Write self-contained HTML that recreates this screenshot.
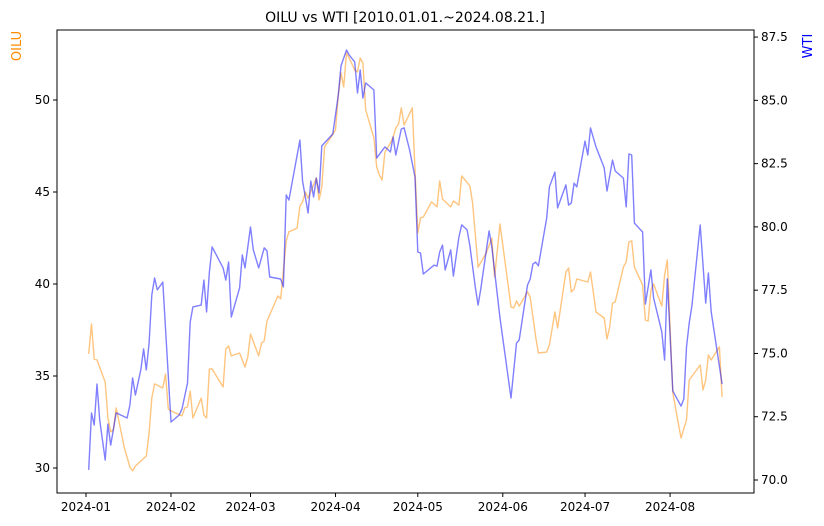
<!DOCTYPE html>
<html><head><meta charset="utf-8">
<style>
html,body{margin:0;padding:0;background:#fff;}
svg{display:block;font-family:"DejaVu Sans","Liberation Sans",sans-serif;}
</style></head>
<body>
<svg id="chart" width="824" height="526" viewBox="0 0 824 526" xmlns="http://www.w3.org/2000/svg">
<rect x="0" y="0" width="824" height="526" fill="#fff"/>
<text x="405" y="22" text-anchor="middle" font-size="14" fill="#000">OILU vs WTI [2010.01.01.~2024.08.21.]</text>
<text transform="translate(21,46) rotate(-90)" text-anchor="middle" font-size="13" fill="#ff8c00">OILU</text>
<text transform="translate(812,46) rotate(-90)" text-anchor="middle" font-size="13" fill="#0000ff">WTI</text>
<g id="plot"></g>
</svg>
<script>
// days since 2024-01-01
const wtiDays=[1,2,3,4,5,7,8,9,11,15,16,17,18,20,21,22,23,24,25,26,28,31,34,35,37,38,39,42,43,44,45,46,50,51,52,53,56,57,58,60,61,63,65,66,67,71,72,73,74,78,79,81,82,83,84,85,86,90,92,93,95,96,98,99,100,101,102,105,106,109,111,112,113,115,116,118,120,121,122,123,127,128,129,130,131,133,134,136,137,139,140,142,143,144,147,148,151,155,157,158,161,162,163,164,165,168,169,171,172,175,176,177,178,179,182,183,184,186,189,190,192,193,196,197,198,199,200,203,204,206,207,210,211,212,214,217,218,219,220,221,224,226,227,228,232];
const wtiValues=[70.40,72.65,72.17,73.79,72.37,70.79,72.21,71.38,72.65,72.45,72.96,74.03,73.36,74.35,75.18,74.35,75.41,77.31,77.98,77.51,77.82,72.29,72.57,72.81,73.83,76.24,76.84,76.91,77.90,76.64,78.22,79.21,78.38,77.90,78.61,76.44,77.59,78.89,78.38,80.00,79.09,78.38,79.17,79.05,78.02,77.94,77.63,81.26,81.06,83.43,81.80,80.55,81.81,81.18,81.93,81.34,83.20,83.67,85.21,86.36,86.99,86.79,86.52,85.29,86.20,85.09,85.69,85.41,82.72,83.16,82.96,83.55,82.84,83.87,83.91,83.04,81.97,79.01,78.97,78.14,78.49,78.45,79.01,79.28,78.30,79.09,78.06,79.60,80.08,79.88,79.25,77.59,76.91,77.55,79.84,79.21,76.40,73.24,75.41,75.53,77.70,77.94,78.53,78.61,78.46,80.35,81.58,82.17,80.75,81.66,80.86,80.94,81.73,81.58,83.39,82.84,83.91,83.16,82.33,81.42,82.64,82.21,81.93,80.79,82.88,82.84,80.15,79.80,76.95,78.30,77.19,75.85,74.74,77.94,73.52,72.92,73.20,75.25,76.20,76.91,80.08,76.99,78.18,76.64,73.79];
const oiluDays=[1,2,3,4,7,8,9,10,11,14,16,17,18,22,23,24,25,28,29,30,31,35,36,37,38,39,42,43,44,45,46,50,51,52,53,56,58,59,60,63,64,65,66,70,71,73,74,77,78,79,80,81,84,85,86,87,91,92,93,94,95,96,98,99,100,101,102,105,106,107,108,109,111,112,113,114,115,116,119,120,121,122,123,126,128,129,130,133,134,135,136,137,140,141,143,146,148,149,151,155,156,157,158,161,162,164,165,168,169,171,172,175,176,177,178,179,183,184,186,189,190,191,192,193,196,197,198,199,200,203,204,205,206,207,210,211,212,214,217,219,220,224,225,226,227,228,231,232];
const oiluValues=[36.20,37.83,35.92,35.87,34.67,32.72,31.96,32.07,33.26,31.09,30.05,29.84,30.11,30.65,31.90,33.80,34.57,34.35,35.11,33.21,33.10,32.83,33.26,33.32,34.18,32.72,33.80,32.88,32.72,35.38,35.38,34.40,36.47,36.63,36.09,36.25,35.49,36.03,37.28,36.09,36.79,36.90,37.99,39.35,39.19,42.34,42.83,43.04,44.24,44.46,45.00,44.67,45.76,44.57,45.27,47.45,48.37,50.27,51.47,50.71,52.56,52.28,51.63,51.52,52.28,52.01,49.46,47.94,46.36,45.92,45.65,47.17,47.66,47.99,48.48,48.70,49.57,48.64,49.57,46.20,42.77,43.59,43.64,44.46,44.19,45.60,44.62,44.19,44.51,44.40,44.29,45.87,45.33,44.40,40.92,41.69,42.50,40.38,43.26,38.75,38.70,39.08,38.80,39.57,39.29,37.12,36.25,36.30,36.69,38.48,37.61,40.65,40.87,39.57,39.73,40.27,40.11,40.65,38.48,38.15,37.01,37.66,38.97,39.02,40.92,41.20,42.28,42.34,40.92,39.95,38.04,37.99,39.67,40.00,38.80,40.49,41.30,34.08,31.63,32.61,34.78,35.60,34.24,34.78,36.14,35.87,36.58,33.86];
const xTickDays=[0,31,60,91,121,152,182,213];
const xTickLabels=["2024-01","2024-02","2024-03","2024-04","2024-05","2024-06","2024-07","2024-08"];
const leftTicks=[30,35,40,45,50];
const rightTicks=[70.0,72.5,75.0,77.5,80.0,82.5,85.0,87.5];

const NS="http://www.w3.org/2000/svg";
const L=57,R=754,T=30,B=493;
const xS=d=>86+d*2.742;
const yL=v=>468-(v-30)*18.4;
const yR=v=>480-(v-70)*25.31;
const g=document.getElementById('plot');
function mk(tag,attrs,parent){const e=document.createElementNS(NS,tag);for(const k in attrs)e.setAttribute(k,attrs[k]);(parent||g).appendChild(e);return e;}

function series(days,vals,ys,color,name){
  const p=days.map((d,i)=>xS(d).toFixed(1)+","+ys(vals[i]).toFixed(1)).join(" ");
  const el=mk('polyline',{points:p,fill:'none',stroke:color,'stroke-opacity':'0.5','stroke-width':'1.4','stroke-linejoin':'round'});
  
  
}
series(oiluDays,oiluValues,yL,'#ff8c00','oilu-line');
series(wtiDays,wtiValues,yR,'#0000ff','wti-line');

const frame=mk('rect',{x:L,y:T,width:R-L,height:B-T,fill:'none',stroke:'#000','stroke-width':'1'});



xTickDays.forEach((d,i)=>{
  const x=xS(d);
  const t=mk('line',{x1:x,x2:x,y1:B,y2:B+4,stroke:'#000'});
  
  
  const lb=mk('text',{x:x,y:B+18,'text-anchor':'middle','font-size':'12',fill:'#000'});
  lb.textContent=xTickLabels[i];
  
  
});
leftTicks.forEach(v=>{
  const y=yL(v);
  const t=mk('line',{x1:L-4,x2:L,y1:y,y2:y,stroke:'#000'});
  
  
  const lb=mk('text',{x:L-7,y:y+4,'text-anchor':'end','font-size':'12',fill:'#000'});
  lb.textContent=String(v);
  
  
});
rightTicks.forEach(v=>{
  const y=yR(v);
  const t=mk('line',{x1:R,x2:R+4,y1:y,y2:y,stroke:'#000'});
  
  
  const lb=mk('text',{x:R+7,y:y+4,'text-anchor':'start','font-size':'12',fill:'#000'});
  lb.textContent=v.toFixed(1);
  
  
});
</script>
</body></html>
